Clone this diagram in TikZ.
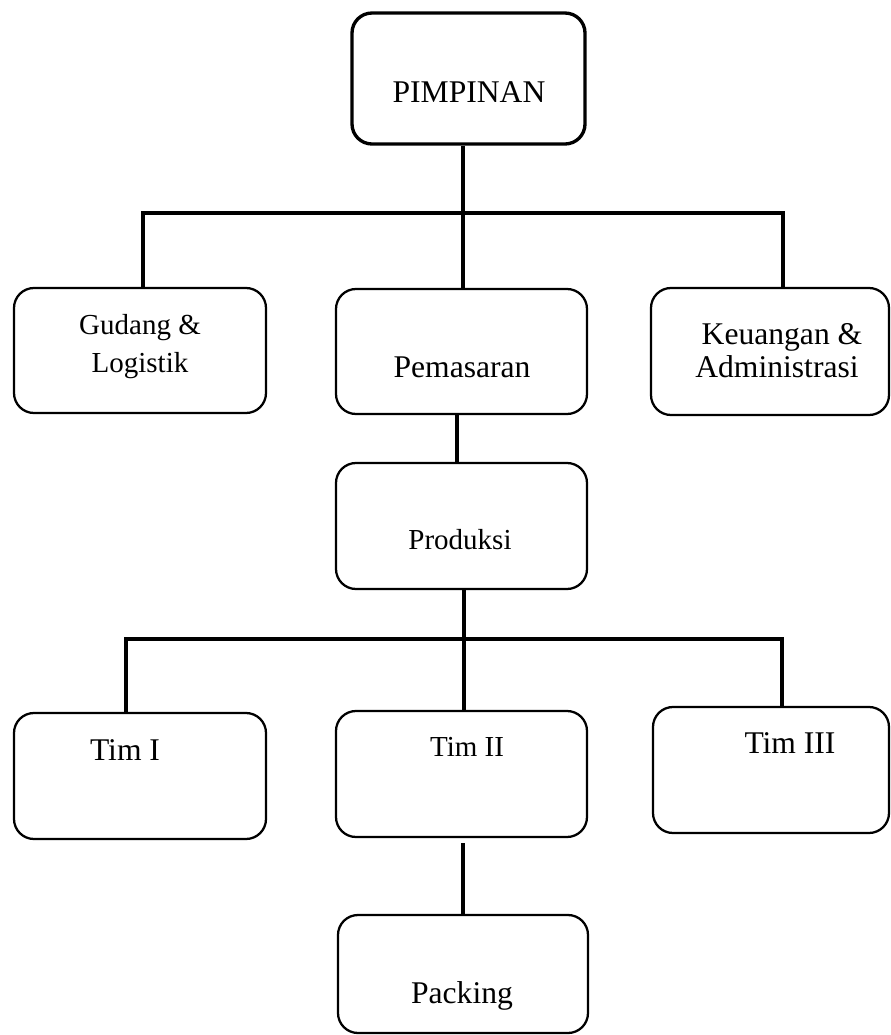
\documentclass[tikz,border=0pt]{standalone}
\usepackage{fontspec}
\setmainfont{Liberation Serif}
\usetikzlibrary{fit}

\tikzset{
  kotak/.style={draw, line width=1.7pt, rounded corners=15pt, inner sep=0pt},
  garis/.style={line width=2.6pt},
  teks/.style={anchor=base, inner sep=0pt, font=\fontsize{23.7}{28}\selectfont},
  tekskecil/.style={anchor=base, inner sep=0pt, font=\fontsize{21.75}{26}\selectfont},
}

\begin{document}
\begin{tikzpicture}[x=0.75pt, y=-0.75pt]
  \useasboundingbox (0,0) rectangle (891,1035);

  % kotak
  \node[kotak, line width=2.5pt, fit={(352,13) (585,144)}] (pimpinan) {};
  \node[kotak, fit={(14,288) (266,413)}] (gudang) {};
  \node[kotak, fit={(336,289) (587,414)}] (pemasaran) {};
  \node[kotak, fit={(651,288) (889,415)}] (keuangan) {};
  \node[kotak, fit={(336,463) (587,589)}] (produksi) {};
  \node[kotak, fit={(14,713) (266,839)}] (tim1) {};
  \node[kotak, fit={(336,711) (587,837)}] (tim2) {};
  \node[kotak, fit={(653,707) (889,833)}] (tim3) {};
  \node[kotak, fit={(338,915) (588,1033)}] (packing) {};

  % teks
  \node[teks] (t-pimpinan) at (469,102) {PIMPINAN};
  \node[tekskecil] (t-gudang1) at (140,334) {Gudang \&};
  \node[tekskecil] (t-gudang2) at (140,372) {Logistik};
  \node[teks] (t-pemasaran) at (462,377) {Pemasaran};
  \node[teks] (t-keuangan1) at (782,344) {Keuangan \&};
  \node[teks] (t-keuangan2) at (777,377) {Administrasi};
  \node[tekskecil] (t-produksi) at (460,549) {Produksi};
  \node[teks] (t-tim1) at (125,760) {Tim I};
  \node[tekskecil] (t-tim2) at (467,756) {Tim II};
  \node[teks] (t-tim3) at (790,753) {Tim III};
  \node[teks] (t-packing) at (462,1003) {Packing};

  % garis
  \coordinate (a1) at (143,213);
  \coordinate (a2) at (463,213);
  \coordinate (a3) at (783,213);
  \draw[garis] (a2 |- pimpinan.south) -- (a2);
  \draw[garis] (a1 |- gudang.north) -- (a1) -- (a3) -- (a3 |- keuangan.north);
  \draw[garis] (a2) -- (a2 |- pemasaran.north);

  \draw[garis] ([xshift=-3.4pt]pemasaran.south) -- ([xshift=-3.4pt]pemasaran.south |- produksi.north);

  \coordinate (b1) at (126,639);
  \coordinate (b2) at (464,639);
  \coordinate (b3) at (782,639);
  \draw[garis] (b2 |- produksi.south) -- (b2);
  \draw[garis] (b1 |- tim1.north) -- (b1) -- (b3) -- (b3 |- tim3.north);
  \draw[garis] (b2) -- (b2 |- tim2.north);

  \coordinate (d1) at (463,843);
  \draw[garis] (d1) -- (d1 |- packing.north);
\end{tikzpicture}
\end{document}
